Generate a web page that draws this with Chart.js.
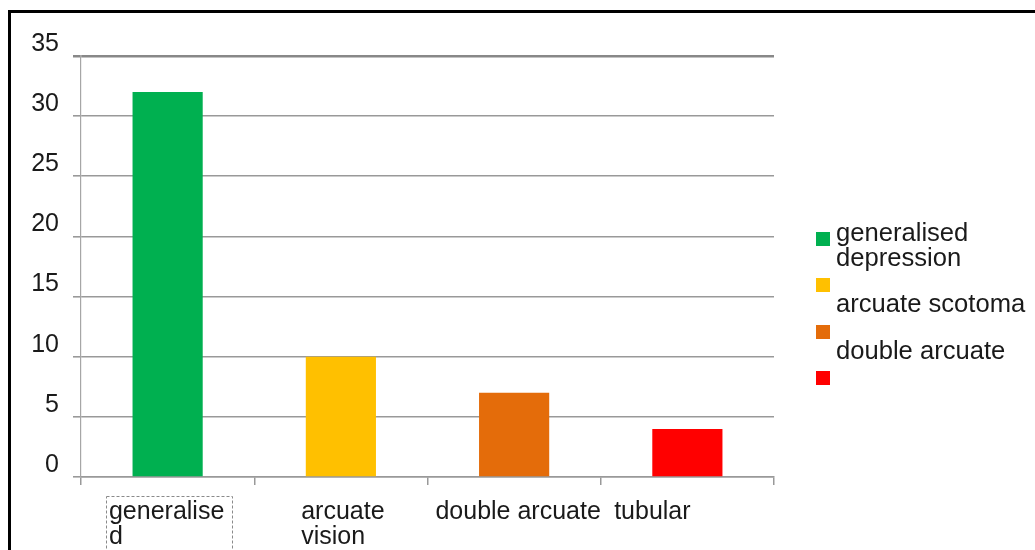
<!DOCTYPE html>
<html>
<head>
<meta charset="utf-8">
<script src="https://cdn.jsdelivr.net/npm/chart.js@4.4.1/dist/chart.umd.min.js"></script>
<style>
  body { margin: 0; background: #fff; }
  #wrap { position: relative; width: 1035px; height: 550px; overflow: hidden; }
  #frame { position: absolute; left: 8px; top: 10px; width: 1200px; height: 700px;
           border-top: 3px solid #000; border-left: 3px solid #000; }
  #chart { position: absolute; left: 0; top: 0; }
  #legend { position: absolute; left: 816px; top: 0; font-family: "Liberation Sans", Arial, sans-serif;
            font-size: 25.6px; line-height: 25px; color: #1a1a1a; }
  .item { position: absolute; left: 0; white-space: pre; }
  .box { position: absolute; left: 0; top: 12px; width: 14px; height: 14px; }
  .txt { position: absolute; left: 20px; top: 0; }
</style>
</head>
<body>
<div id="wrap">
  <div id="frame"></div>
  <canvas id="chart" width="1035" height="550"></canvas>
  <div id="legend"></div>
</div>
<script>
// data
const categories = [["generalise", "d"], ["arcuate", "vision"], "double arcuate", "tubular"];
const counts = [32, 10, 7, 4];
const barColors = ["#00B050", "#FFC000", "#E46C0A", "#FF0000"];
const legendLabels = ["generalised\ndepression", "\narcuate scotoma", "\ndouble arcuate", ""];
const yMax = 35;
const yStep = 5;

const fontFamily = "'Liberation Sans', Arial, sans-serif";
const textColor = "#1a1a1a";
const gridColor = "#999999";
// the last category label sits left of its slot in the original
const labelShift = [-1, 2, 4, -35];

// category labels: each block centred on its slot, lines left aligned,
// plus the dashed box round the first one
const xLabels = {
  id: "xLabels",
  afterDraw(chart) {
    const xs = chart.scales.x;
    const ctx = chart.ctx;
    ctx.save();
    ctx.font = "25px " + fontFamily;
    ctx.fillStyle = textColor;
    ctx.textAlign = "left";
    ctx.textBaseline = "middle";
    chart.data.labels.forEach((lab, i) => {
      const lines = [].concat(lab);
      const w = Math.max(...lines.map(l => ctx.measureText(l).width));
      const left = xs.getPixelForTick(i) - w / 2 + labelShift[i];
      lines.forEach((l, j) => ctx.fillText(l, left, xs.top + 35 + j * 25));
    });
    const cx = xs.getPixelForTick(0);
    ctx.setLineDash([3, 2]);
    ctx.strokeStyle = "#8a8a8a";
    ctx.lineWidth = 1;
    ctx.strokeRect(Math.round(cx - 62) + 0.5, Math.round(xs.top) + 19.5, 126, 80);
    ctx.restore();
  }
};

new Chart(document.getElementById("chart"), {
  type: "bar",
  data: {
    labels: categories,
    datasets: [{
      data: counts,
      backgroundColor: barColors,
      borderWidth: 0,
      categoryPercentage: 1,
      barPercentage: 0.405
    }]
  },
  options: {
    responsive: false,
    animation: false,
    layout: { padding: { top: 56, right: 261, left: 0, bottom: 0 } },
    plugins: {
      legend: { display: false },
      tooltip: { enabled: false }
    },
    scales: {
      x: {
        grid: { drawOnChartArea: false, offset: true, tickLength: 8, color: gridColor, lineWidth: 1.5 },
        border: { color: gridColor, width: 1.5 },
        ticks: { display: false },
        afterFit(scale) { scale.height = 73; }
      },
      y: {
        min: 0,
        max: yMax,
        grid: {
          tickLength: 8,
          color: c => c.tick && c.tick.value === yMax ? "#888888" : gridColor,
          lineWidth: c => c.tick && c.tick.value === yMax ? 2.5 : 1.6
        },
        border: { color: "#a6a6a6", width: 1.2 },
        ticks: {
          stepSize: yStep,
          font: { family: fontFamily, size: 25 },
          color: textColor,
          padding: 14,
          labelOffset: -12
        },
        afterFit(scale) { scale.width = 81; }
      }
    }
  },
  plugins: [xLabels]
});

// legend
const legend = document.getElementById("legend");
legendLabels.forEach((label, i) => {
  const item = document.createElement("div");
  item.className = "item";
  item.style.top = (220 + i * 46.3) + "px";
  const box = document.createElement("div");
  box.className = "box";
  box.style.background = barColors[i];
  const txt = document.createElement("div");
  txt.className = "txt";
  txt.textContent = label;
  item.appendChild(box);
  item.appendChild(txt);
  legend.appendChild(item);
});
</script>
</body>
</html>
